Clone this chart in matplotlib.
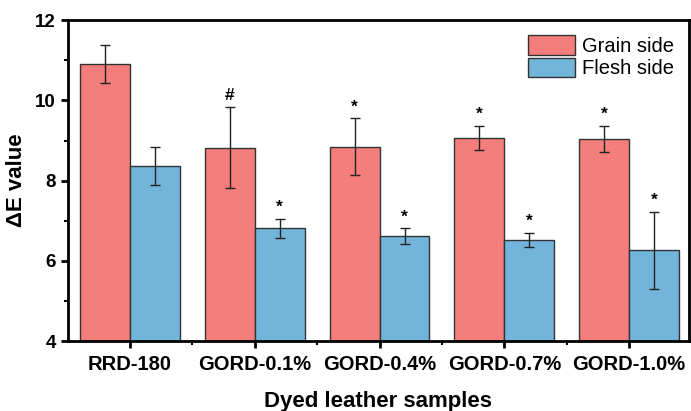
import numpy as np
import matplotlib.pyplot as plt
from matplotlib.ticker import MultipleLocator, FixedLocator

plt.rcParams['font.family'] = ['Liberation Sans', 'DejaVu Sans']

samples = ['RRD-180', 'GORD-0.1%', 'GORD-0.4%', 'GORD-0.7%', 'GORD-1.0%']
grain = [10.91, 8.82, 8.85, 9.07, 9.04]
grain_err = [0.48, 1.01, 0.70, 0.30, 0.33]
flesh = [8.37, 6.81, 6.61, 6.52, 6.26]
flesh_err = [0.47, 0.24, 0.20, 0.17, 0.96]
grain_mark = ['', '#', '*', '*', '*']
flesh_mark = ['', '*', '*', '*', '*']

GRAIN_C = '#F37E7B'
FLESH_C = '#72B4DA'


def draw_bars(ax, x, vals, errs, marks, color, label):
    ax.bar(x, vals, width=0.4, color=color, edgecolor='#333333',
           linewidth=1.0, label=label, zorder=2)
    ax.errorbar(x, vals, yerr=errs, fmt='none', ecolor='#222222',
                elinewidth=1.0, capsize=3.8, capthick=1.0, zorder=3)
    for xi, v, e, m in zip(x, vals, errs, marks):
        if m:
            ax.text(xi, v + e + 0.1, m, ha='center', va='bottom',
                    fontsize=12.5, fontweight='bold')


fig, ax = plt.subplots(figsize=(6.91, 4.11), dpi=100)
fig.subplots_adjust(left=0.098, right=0.997, top=0.951, bottom=0.17)

x = np.arange(len(samples))
draw_bars(ax, x - 0.2, grain, grain_err, grain_mark, GRAIN_C, 'Grain side')
draw_bars(ax, x + 0.2, flesh, flesh_err, flesh_mark, FLESH_C, 'Flesh side')

ax.set_xlim(-0.5, 4.48)
ax.set_ylim(4, 12)
ax.set_xticks(x)
ax.set_xticklabels(samples)
ax.xaxis.set_minor_locator(FixedLocator(x[:-1] + 0.5))
ax.yaxis.set_major_locator(MultipleLocator(2))
ax.yaxis.set_minor_locator(MultipleLocator(1))

for s in ax.spines.values():
    s.set_linewidth(2)
ax.tick_params(which='major', direction='out', length=5, width=2)
ax.tick_params(which='minor', direction='out', length=3, width=1.5)
ax.tick_params(axis='x', which='major', labelsize=14.5, pad=5)
ax.tick_params(axis='y', which='major', labelsize=13.5)
for lab in ax.get_xticklabels() + ax.get_yticklabels():
    lab.set_fontweight('bold')

ax.set_ylabel('ΔE value', fontsize=16, fontweight='bold', labelpad=6)
ax.set_xlabel('Dyed leather samples', fontsize=16, fontweight='bold',
              labelpad=12)

ax.legend(loc='upper right', frameon=False, fontsize=14.5,
          handlelength=2.3, handleheight=1.1, handletextpad=0.35,
          labelspacing=0.1, borderaxespad=0.35)

fig.savefig('out.png', dpi=100)
